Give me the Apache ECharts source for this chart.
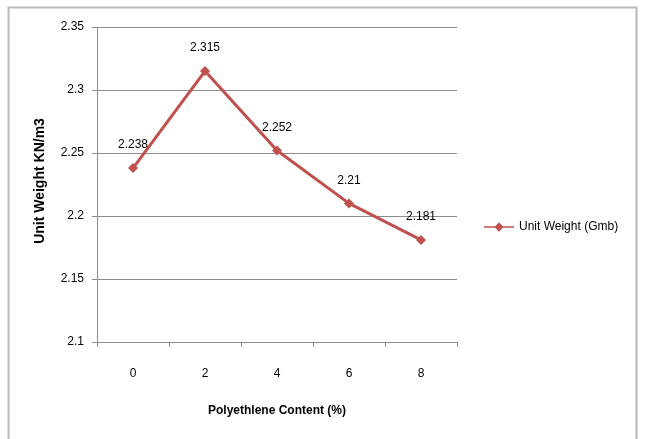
<!DOCTYPE html>
<html>
<head>
<meta charset="utf-8">
<script src="https://cdn.jsdelivr.net/npm/echarts@6/dist/echarts.min.js"></script>
<style>
  html, body { margin: 0; padding: 0; background: #fff; }
  #chart { width: 647px; height: 439px; }
</style>
</head>
<body>
<div id="chart"></div>
<script>
// Polyethylene content (%) on the x axis
const categories = ['0', '2', '4', '6', '8'];
// Unit weight (Gmb) for each content level
const unitWeight = [2.238, 2.315, 2.252, 2.21, 2.181];
const seriesName = 'Unit Weight (Gmb)';
const yTitle = 'Unit Weight KN/m3';
const xTitle = 'Polyethlene Content (%)';

const font = '"Liberation Sans Narrow", "Liberation Sans", Arial, sans-serif';
const red = '#C0504D';

// legend glyph: a short line with a diamond in its middle
const legendIcon = 'path://M0,4.2 L12,4.2 L16,0 L20,4.2 L32,4.2 L32,5.8 L20,5.8 L16,10 L12,5.8 L0,5.8 Z';

const chart = echarts.init(document.getElementById('chart'), null, { renderer: 'canvas' });
chart.setOption({
  animation: false,
  backgroundColor: '#ffffff',
  textStyle: { fontFamily: font },
  graphic: [
    {
      type: 'rect',
      shape: { x: 8.5, y: 7.5, width: 628, height: 440 },
      style: { fill: 'none', stroke: '#b8b8b8', lineWidth: 2 },
      silent: true
    },
    {
      type: 'text',
      x: 40,
      y: 181,
      rotation: Math.PI / 2,
      style: {
        text: yTitle,
        font: 'bold 14px ' + font,
        fill: '#000',
        align: 'center',
        verticalAlign: 'middle'
      },
      silent: true
    }
  ],
  grid: { left: 97, top: 27, right: 190, bottom: 97, containLabel: false },
  legend: {
    left: 479,
    top: 216,
    itemWidth: 30,
    itemHeight: 10,
    textStyle: { fontFamily: font, fontSize: 12, color: '#000' },
    data: [{ name: seriesName, icon: legendIcon }]
  },
  xAxis: {
    type: 'category',
    data: categories,
    boundaryGap: true,
    name: xTitle,
    nameLocation: 'middle',
    nameGap: 63,
    nameTextStyle: { fontFamily: font, fontSize: 12, fontWeight: 'bold', color: '#000' },
    axisLine: { lineStyle: { color: '#8c8c8c', width: 1 } },
    axisTick: { show: true, length: 5, alignWithLabel: false, lineStyle: { color: '#8c8c8c' } },
    axisLabel: { margin: 26, fontSize: 12, color: '#000', fontFamily: font }
  },
  yAxis: {
    type: 'value',
    min: 2.1,
    max: 2.35,
    interval: 0.05,
    axisLine: { show: true, lineStyle: { color: '#8c8c8c', width: 1 } },
    axisTick: { show: true, length: 5, lineStyle: { color: '#8c8c8c' } },
    axisLabel: {
      margin: 13,
      fontSize: 12,
      color: '#000',
      fontFamily: font,
      formatter: v => String(parseFloat(v.toFixed(2)))
    },
    splitLine: { show: true, lineStyle: { color: '#8c8c8c', width: 1 } }
  },
  series: [{
    name: seriesName,
    type: 'line',
    data: unitWeight,
    color: red,
    lineStyle: { color: red, width: 3 },
    itemStyle: { color: red },
    symbol: 'diamond',
    symbolSize: 10,
    label: {
      show: true,
      position: 'top',
      distance: 12,
      fontSize: 12,
      color: '#000',
      fontFamily: font,
      formatter: p => String(p.value)
    }
  }]
});
</script>
</body>
</html>
